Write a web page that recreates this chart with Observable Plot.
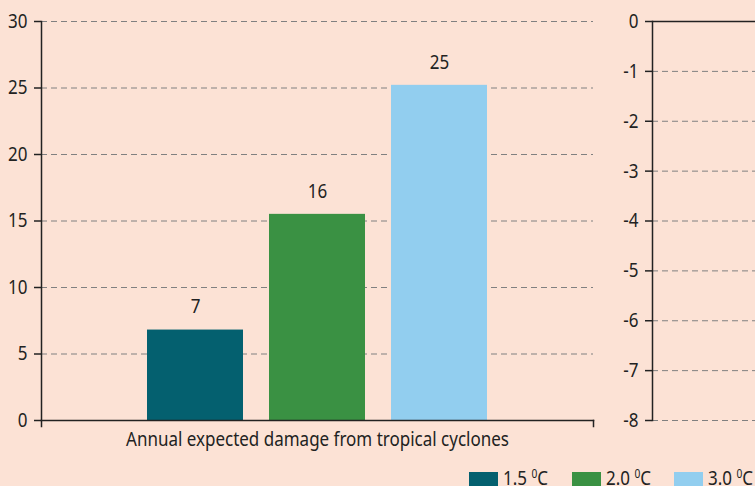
<!DOCTYPE html>
<html>
<head>
<meta charset="utf-8">
<script src="https://cdn.jsdelivr.net/npm/d3@7"></script>
<script src="https://cdn.jsdelivr.net/npm/@observablehq/plot@0.6"></script>
<style>
  html, body { margin: 0; padding: 0; background: #FCE2D5; }
  #wrap { position: relative; width: 755px; height: 486px; overflow: hidden; background: #FCE2D5;
          font-family: 'Noto Sans', sans-serif; color: #222; }
  #left { position: absolute; left: 0; top: 0; }
  #right { position: absolute; left: 600px; top: 0; }
  .item { position: absolute; top: 468px; height: 20px; white-space: nowrap; font-size: 20px; line-height: 20px; }
  .sw { position: absolute; left: 0; top: 4px; width: 29px; height: 18px; }
  .lbl { position: absolute; left: 34px; top: 0; display: inline-block; transform: scaleX(0.85); transform-origin: 0 0; }
  sup { font-size: 12px; vertical-align: 0; position: relative; top: -7px; }
</style>
</head>
<body>
<div id="wrap">
  <div id="left"></div>
  <div id="right"></div>
  <div id="legend"></div>
</div>
<script>
const category = ["Annual expected damage from tropical cyclones"];
const scenarios = ["1.5", "2.0", "3.0"];
const damage = [6.8, 15.5, 25.2];
const colors = ["#04606F", "#3A9143", "#92CEEF"];
const leftTicks = [0, 5, 10, 15, 20, 25, 30];
const rightTicks = [0, -1, -2, -3, -4, -5, -6, -7, -8];

const rows = scenarios.map((s, i) => ({cat: category[0], scenario: s, value: damage[i]}));

const font = "'Noto Sans', sans-serif";
const ink = "#222";
const gridStyle = {stroke: "#808080", strokeOpacity: 1, strokeDasharray: "6,4", strokeWidth: 1};
const fmt = d => String(d);
const SQUEEZE = 0.85;

// narrow the glyphs horizontally to mimic the condensed typeface of the original
function condense(svg) {
  svg.querySelectorAll("text").forEach(t => {
    const tr = t.getAttribute("transform");
    if (tr) {
      t.setAttribute("transform", tr + ` scale(${SQUEEZE},1)`);
    } else {
      const x = parseFloat(t.getAttribute("x") || "0");
      t.setAttribute("x", 0);
      t.setAttribute("transform", `translate(${x},0) scale(${SQUEEZE},1)`);
    }
  });
  return svg;
}

const left = Plot.plot({
  width: 600, height: 460,
  marginLeft: 41, marginRight: 7, marginTop: 21, marginBottom: 40,
  style: {fontFamily: font, fontSize: "20px", background: "transparent", color: ink},
  fx: {domain: category, padding: 0, label: null},
  x: {domain: scenarios, paddingInner: 0.21, paddingOuter: 0.85, axis: null},
  y: {domain: [0, 30], axis: null},
  color: {domain: scenarios, range: colors},
  marks: [
    Plot.gridY(leftTicks.filter(d => d !== 0), gridStyle),
    Plot.barY(rows, {fx: "cat", x: "scenario", y: "value", fill: "scenario"}),
    Plot.text(rows, {fx: "cat", x: "scenario", y: "value", text: d => d3.format(".0f")(d.value), dy: -23, fill: ink, fontSize: 20}),
    Plot.frame({anchor: "left", stroke: ink, strokeWidth: 1.5, insetBottom: -6}),
    Plot.frame({anchor: "bottom", stroke: ink, strokeWidth: 1.5}),
    Plot.frame({anchor: "right", stroke: ink, strokeWidth: 1.5, insetTop: 399, insetBottom: -6}),
    Plot.axisY(leftTicks, {tickSize: 7, tickPadding: 7, tickFormat: fmt, stroke: ink, strokeWidth: 1.5, fill: ink, fontSize: 20, label: null}),
    Plot.axisFx({anchor: "bottom", tickSize: 0, tickPadding: 11, label: null, fill: ink, fontSize: 20})
  ]
});
document.getElementById("left").appendChild(condense(left));

const right = Plot.plot({
  width: 155, height: 460,
  marginLeft: 52, marginRight: 0, marginTop: 21, marginBottom: 40,
  style: {fontFamily: font, fontSize: "20px", background: "transparent", color: ink},
  y: {domain: [-8, 0], axis: null},
  marks: [
    Plot.gridY(rightTicks.filter(d => d !== 0), gridStyle),
    Plot.ruleY([0], {stroke: ink, strokeWidth: 1.5}),
    Plot.frame({anchor: "left", stroke: ink, strokeWidth: 1.5}),
    Plot.axisY(rightTicks, {tickSize: 7, tickPadding: 7, tickFormat: fmt, stroke: ink, strokeWidth: 1.5, fill: ink, fontSize: 20, label: null})
  ]
});
document.getElementById("right").appendChild(condense(right));

const legend = document.getElementById("legend");
scenarios.forEach((s, i) => {
  const item = document.createElement("div");
  item.className = "item";
  item.style.left = (469 + i * 102.5) + "px";
  item.innerHTML = `<div class="sw" style="background:${colors[i]}"></div><span class="lbl">${s} <sup>0</sup>C</span>`;
  legend.appendChild(item);
});
</script>
</body>
</html>
